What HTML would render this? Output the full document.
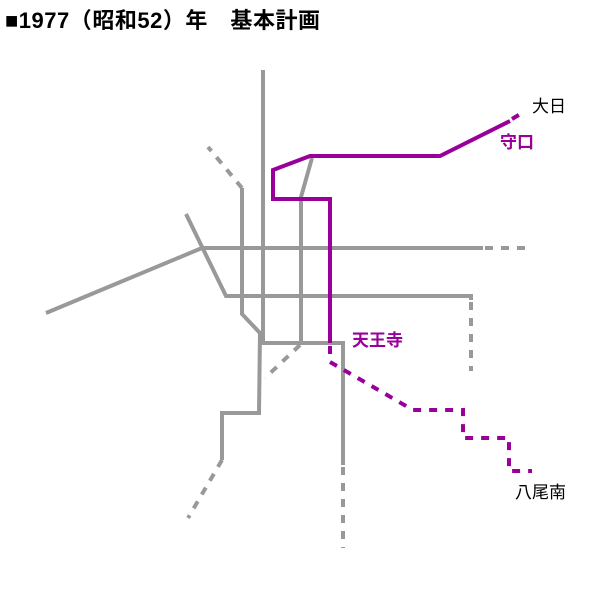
<!DOCTYPE html>
<html><head><meta charset="utf-8"><style>
body{margin:0;background:#fff;width:600px;height:600px;overflow:hidden}
svg{display:block}
text{font-family:"Liberation Sans","Noto Sans CJK JP",sans-serif}
</style></head><body>
<svg width="600" height="600" viewBox="0 0 600 600">
<text x="5" y="28" font-size="22" font-weight="bold" fill="#000" textLength="315">■1977（昭和52）年　基本計画</text>
<g fill="none" stroke="#999" stroke-width="4" stroke-linejoin="miter">
<polyline points="263,70 263,343 343,343 343,465"/>
<polyline points="242,188 242,314 260,333 259,413 222,413 222,460"/>
<polyline points="301,343 301,197 312,158"/>
<polyline points="46,313 202,248 483,248"/>
<polyline points="186,214 226,296 471,296 471,300"/>
</g>
<g fill="none" stroke="#999" stroke-width="4" stroke-dasharray="8,8">
<line x1="242" y1="188" x2="208" y2="147"/>
<line x1="222" y1="460" x2="188" y2="518"/>
<line x1="300" y1="345" x2="265" y2="378"/>
<line x1="343" y1="467" x2="343" y2="548"/>
<line x1="485" y1="248" x2="528" y2="248"/>
<line x1="471" y1="302" x2="471" y2="371"/>
</g>
<polyline fill="none" stroke="#909" stroke-width="4" points="510,121 440,156 310,156 273,170 273,199 330,199 330,343"/>
<g fill="none" stroke="#909" stroke-width="4" stroke-dasharray="8,8">
<line x1="512" y1="119" x2="522" y2="113"/>
<polyline points="330,346 330,362 413,410 463,410 463,438 509,438 509,471 532,471"/>
</g>
<text x="532" y="112" font-size="17" fill="#000">大日</text>
<text x="500" y="148" font-size="17" font-weight="bold" fill="#909">守口</text>
<text x="352" y="346" font-size="17" font-weight="bold" fill="#909">天王寺</text>
<text x="515" y="498" font-size="17" fill="#000">八尾南</text>
</svg>
</body></html>
